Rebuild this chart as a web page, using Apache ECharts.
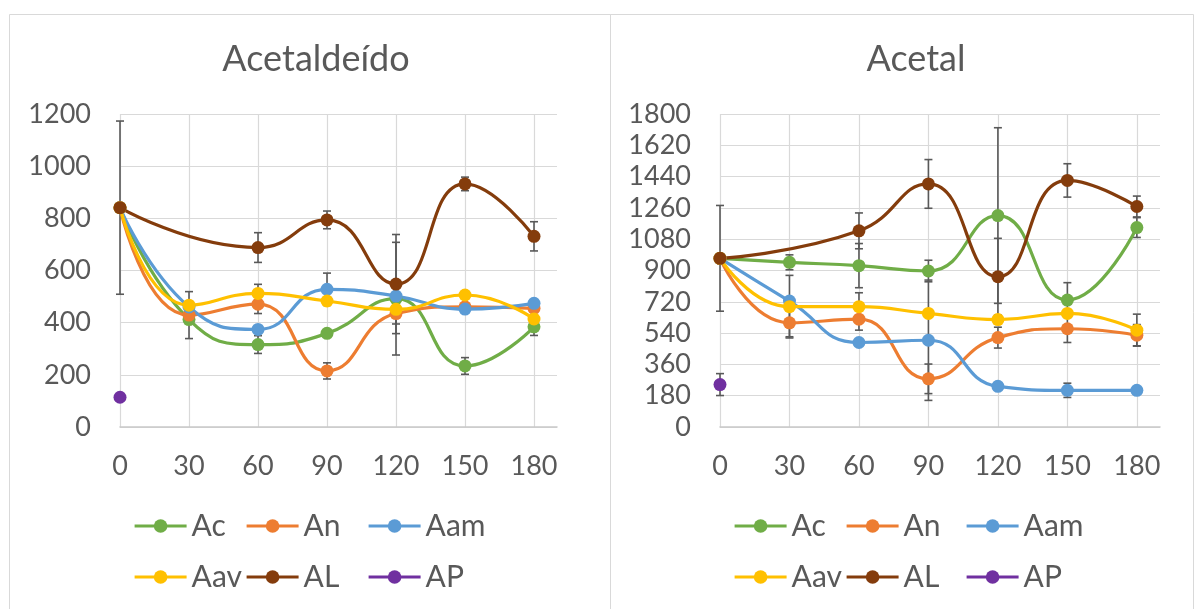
<!DOCTYPE html>
<html>
<head>
<meta charset="utf-8">
<title>Acetaldeído e Acetal</title>
<script src="https://cdn.jsdelivr.net/npm/echarts@6/dist/echarts.min.js"></script>
<style>
  html, body { margin: 0; padding: 0; background: #ffffff; }
  #chart { width: 1201px; height: 609px; }
</style>
</head>
<body>
<div id="chart"></div>
<script>
// Sampling times (x values)
const times = [0, 30, 60, 90, 120, 150, 180];
const seriesNames = ['Ac', 'An', 'Aam', 'Aav', 'AL', 'AP'];
const seriesColors = ['#70AD47', '#ED7D31', '#5B9BD5', '#FFC000', '#843C0C', '#7030A0'];

// Acetaldeído — means
const aldAc  = [841, 412, 316, 359, 492, 234, 384];
const aldAn  = [841, 429, 471, 215, 435, 461, 455];
const aldAam = [841, 460, 374, 528, 502, 452, 474];
const aldAav = [841, 467, 512, 483, 451, 506, 414];
const aldAL  = [841, null, 688, 794, 548, 932, 731];
const aldAP  = [114, null, null, null, null, null, null];
// Acetaldeído — standard deviations
const aldAcErr  = [null, null, 34, null, 216, 32, 33];
const aldAnErr  = [null, 90, 36, 31, 40, null, null];
const aldAamErr = [null, null, null, 62, null, null, null];
const aldAavErr = [null, null, 35, null, null, null, null];
const aldALErr  = [332, null, 57, 34, 190, 26, 56];
const aldAPErr  = [null, null, null, null, null, null, null];

// Acetal — means
const acAc  = [970, 947, 928, 897, 1216, 730, 1147];
const acAn  = [970, 599, 620, 277, 514, 565, 528];
const acAam = [970, 724, 486, 499, 234, 211, 211];
const acAav = [970, 692, 692, 653, 618, 653, 557];
const acAL  = [970, null, 1128, 1398, 864, 1418, 1268];
const acAP  = [244, null, null, null, null, null, null];
// Acetal — standard deviations
const acAcErr  = [null, 43, 127, 62, 505, 100, 57];
const acAnErr  = [null, 80, 63, 85, 60, 79, 61];
const acAamErr = [null, null, null, 346, null, 41, null];
const acAavErr = [null, 180, 80, null, null, null, 92];
const acALErr  = [304, null, 103, 140, 221, 96, 60];
const acAPErr  = [63, null, null, null, null, null, null];

// Axis scales
const aldYMax = 1200, aldYStep = 200;
const acYMax = 1800, acYStep = 180;
const xMax = 190, xStep = 30;

const FONT = 'Lato, "Open Sans", sans-serif';
const TEXT = '#595959';
const GRID_LINE = '#d9d9d9';

const panels = [
  {
    title: 'Acetaldeído', titleX: 311, box: [9, 14, 601, 620], grid: { left: 120, right: 644, top: 114, bottom: 182 },
    yMax: aldYMax, yStep: aldYStep, legendX: [133, 245, 367],
    means: [aldAc, aldAn, aldAam, aldAav, aldAL, aldAP],
    errs: [aldAcErr, aldAnErr, aldAamErr, aldAavErr, aldALErr, aldAPErr]
  },
  {
    title: 'Acetal', titleX: 911, box: [610, 14, 583, 620], grid: { left: 720, right: 41, top: 114, bottom: 182 },
    yMax: acYMax, yStep: acYStep, legendX: [733, 845, 965],
    means: [acAc, acAn, acAam, acAav, acAL, acAP],
    errs: [acAcErr, acAnErr, acAamErr, acAavErr, acALErr, acAPErr]
  }
];

// vertical grid lines at 0..180, none on the right boundary (190)
const xSplitColors = times.map(() => GRID_LINE).concat(['rgba(0,0,0,0)']);

function errorBarItem(params, api) {
  const x = api.value(0), y = api.value(1), e = api.value(2);
  const top = api.coord([x, y + e]);
  const bot = api.coord([x, y - e]);
  const cap = 4;
  const style = { stroke: '#595959', lineWidth: 1.6 };
  return {
    type: 'group',
    children: [
      { type: 'line', shape: { x1: top[0], y1: top[1], x2: bot[0], y2: bot[1] }, style },
      { type: 'line', shape: { x1: top[0] - cap, y1: top[1], x2: top[0] + cap, y2: top[1] }, style },
      { type: 'line', shape: { x1: bot[0] - cap, y1: bot[1], x2: bot[0] + cap, y2: bot[1] }, style }
    ]
  };
}

const option = {
  backgroundColor: '#ffffff',
  animation: false,
  title: [], grid: [], xAxis: [], yAxis: [], legend: [], series: [],
  graphic: []
};

panels.forEach((p, pi) => {
  option.graphic.push({
    type: 'rect', silent: true, z: -10,
    shape: { x: p.box[0] + 0.5, y: p.box[1] + 0.5, width: p.box[2], height: p.box[3] },
    style: { fill: 'none', stroke: '#d9d9d9', lineWidth: 1 }
  });
  option.title.push({
    text: p.title, left: p.titleX, top: 36, textAlign: 'center',
    textStyle: { fontFamily: FONT, fontSize: 36, fontWeight: 'normal', color: TEXT }
  });
  option.grid.push(p.grid);
  option.xAxis.push({
    type: 'value', gridIndex: pi, min: 0, max: xMax, interval: xStep,
    axisLine: { show: true, onZero: false, lineStyle: { color: '#c9c9c9', width: 1.5 } },
    axisTick: { show: false },
    axisLabel: { showMaxLabel: false, margin: 26, fontFamily: FONT, fontSize: 27, color: TEXT },
    splitLine: { show: true, lineStyle: { color: xSplitColors, width: 1.2 } }
  });
  option.yAxis.push({
    type: 'value', gridIndex: pi, min: 0, max: p.yMax, interval: p.yStep,
    axisLine: { show: false }, axisTick: { show: false },
    axisLabel: { margin: 29, fontFamily: FONT, fontSize: 27, color: TEXT, formatter: v => String(v) },
    splitLine: { show: true, lineStyle: { color: GRID_LINE, width: 1.2 } }
  });

  seriesNames.forEach((name, si) => {
    const col = seriesColors[si];
    const errData = [];
    p.errs[si].forEach((e, i) => {
      if (e != null && p.means[si][i] != null) errData.push([times[i], p.means[si][i], e]);
    });
    option.series.push({
      name: name + ' sd', type: 'custom', xAxisIndex: pi, yAxisIndex: pi,
      renderItem: errorBarItem, data: errData, z: 1, silent: true,
      encode: { x: 0, y: 1 }
    });
    option.series.push({
      name, type: 'line', xAxisIndex: pi, yAxisIndex: pi,
      data: times.map((t, i) => [t, p.means[si][i]]),
      smooth: 0.5, connectNulls: true,
      symbol: 'circle', symbolSize: 13, showSymbol: true,
      lineStyle: { color: col, width: 3.2 },
      itemStyle: { color: col },
      z: 2
    });
  });

  // legend laid out as a 3 x 2 table under each plot
  seriesNames.forEach((name, si) => {
    option.legend.push({
      data: [name],
      left: p.legendX[si % 3],
      top: si < 3 ? 511 : 562,
      itemWidth: 52, itemHeight: 17, itemGap: 0, padding: 0,
      lineStyle: { width: 3.2 },
      textStyle: { fontFamily: FONT, fontSize: 30, color: TEXT }
    });
  });
});

const chart = echarts.init(document.getElementById('chart'), null, { renderer: 'canvas' });
chart.setOption(option);
</script>
</body>
</html>
